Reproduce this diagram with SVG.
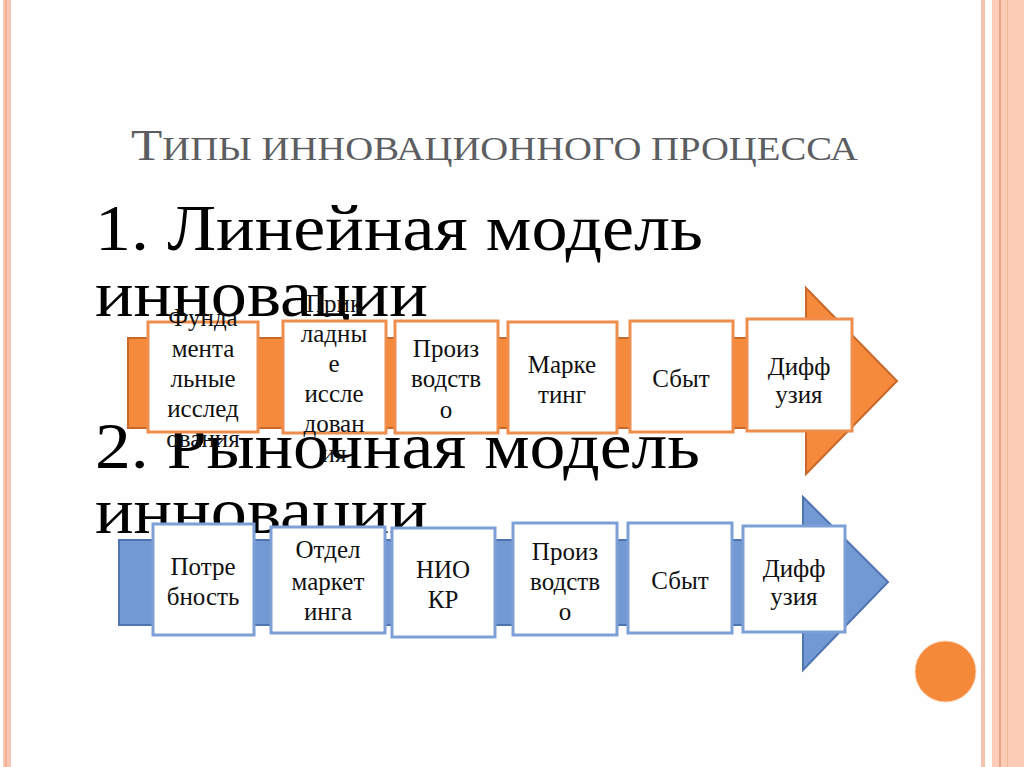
<svg xmlns="http://www.w3.org/2000/svg" width="1024" height="767" viewBox="0 0 1024 767">
<style>
.head{font-family:"Liberation Serif",serif;font-size:66px;fill:#000}
.bt{font-family:"Liberation Serif",serif;font-size:25px;fill:#111;text-anchor:middle}
.ob{fill:#fff;stroke:#EE8D4C;stroke-width:3}
.bb{fill:#fff;stroke:#7C9FD6;stroke-width:3}
</style>
<rect width="1024" height="767" fill="#fefefe"/>
<g id="border">
<rect x="3" y="0" width="8" height="767" fill="#f7c7b1"/>
<rect x="5" y="0" width="2" height="767" fill="#f1b194"/>
<rect x="981" y="0" width="4" height="767" fill="#f5c4ae"/>
<rect x="992" y="0" width="32" height="767" fill="#fbcdb6"/>
<rect x="999" y="0" width="2" height="767" fill="#e9a484"/>
<rect x="1007" y="0" width="1" height="767" fill="#f2b89c"/>
</g>
<g id="title">
<text x="131" y="160" font-family="Liberation Serif, serif" fill="#5b5d61" font-size="34" textLength="727" lengthAdjust="spacingAndGlyphs"><tspan font-size="45">Т</tspan>ИПЫ ИННОВАЦИОННОГО ПРОЦЕССА</text>
</g>
<g id="body">
<text class="head" x="95" y="250" textLength="608" lengthAdjust="spacingAndGlyphs">1. Линейная модель</text>
<text class="head" x="95" y="316" textLength="333" lengthAdjust="spacingAndGlyphs">инновации</text>
<text class="head" x="95" y="468" textLength="605" lengthAdjust="spacingAndGlyphs">2. Рыночная модель</text>
<text class="head" x="95" y="533" textLength="333" lengthAdjust="spacingAndGlyphs">инновации</text>
</g>
<g id="connectors">
<polygon id="arrow-linear" points="128,338 806,338 806,288 897,381 806,474 806,428 128,428" fill="#F68A3C" stroke="#C8682B" stroke-width="2"/>
<polygon id="arrow-market" points="119,540 803,540 803,497 888,582 803,670 803,625 119,625" fill="#7399D4" stroke="#4F75B0" stroke-width="2"/>
</g>
<g id="n1"><rect class="ob" x="148" y="322" width="110" height="110"/>
<text class="bt"><tspan x="203" y="326">Фунда</tspan><tspan x="203" y="357">мента</tspan><tspan x="203" y="387">льные</tspan><tspan x="203" y="417">исслед</tspan><tspan x="203" y="447">ования</tspan></text></g>
<g id="n2"><rect class="ob" x="283" y="321" width="103" height="112"/>
<text class="bt"><tspan x="334" y="312">Прик</tspan><tspan x="334" y="342">ладны</tspan><tspan x="334" y="372">е</tspan><tspan x="334" y="402">иссле</tspan><tspan x="334" y="432">дован</tspan><tspan x="334" y="462">ия</tspan></text></g>
<g id="n3"><rect class="ob" x="395" y="321" width="103" height="112"/>
<text class="bt"><tspan x="446" y="357">Произ</tspan><tspan x="446" y="387">водств</tspan><tspan x="446" y="418">о</tspan></text></g>
<g id="n4"><rect class="ob" x="508" y="322" width="109" height="111"/>
<text class="bt"><tspan x="562" y="373">Марке</tspan><tspan x="562" y="403">тинг</tspan></text></g>
<g id="n5"><rect class="ob" x="630" y="321" width="103" height="111"/>
<text class="bt"><tspan x="681" y="387">Сбыт</tspan></text></g>
<g id="n6"><rect class="ob" x="747" y="319" width="105" height="112"/>
<text class="bt"><tspan x="799" y="375">Дифф</tspan><tspan x="799" y="403">узия</tspan></text></g>
<g id="m1"><rect class="bb" x="153" y="524" width="101" height="111"/>
<text class="bt"><tspan x="203" y="575">Потре</tspan><tspan x="203" y="605">бность</tspan></text></g>
<g id="m2"><rect class="bb" x="271" y="527" width="114" height="106"/>
<text class="bt"><tspan x="328" y="558">Отдел</tspan><tspan x="328" y="590">маркет</tspan><tspan x="328" y="620">инга</tspan></text></g>
<g id="m3"><rect class="bb" x="392" y="528" width="103" height="109"/>
<text class="bt"><tspan x="443" y="578">НИО</tspan><tspan x="443" y="608">КР</tspan></text></g>
<g id="m4"><rect class="bb" x="513" y="523" width="104" height="112"/>
<text class="bt"><tspan x="565" y="560">Произ</tspan><tspan x="565" y="590">водств</tspan><tspan x="565" y="620">о</tspan></text></g>
<g id="m5"><rect class="bb" x="628" y="523" width="104" height="110"/>
<text class="bt"><tspan x="680" y="589">Сбыт</tspan></text></g>
<g id="m6"><rect class="bb" x="743" y="526" width="102" height="106"/>
<text class="bt"><tspan x="794" y="577">Дифф</tspan><tspan x="794" y="605">узия</tspan></text></g>
<g id="dot"><circle cx="945.5" cy="671.5" r="30.5" fill="#F5893A" stroke="#fbd2b4" stroke-width="1"/></g>
</svg>
